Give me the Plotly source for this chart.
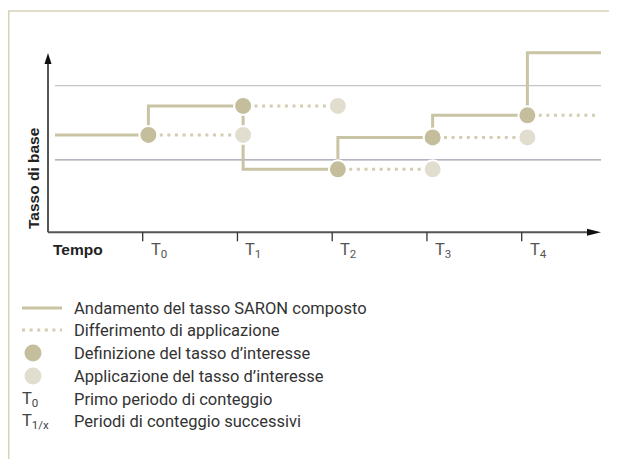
import plotly.graph_objects as go

# ---------------- data ----------------
period_labels = ["T<sub>0</sub>", "T<sub>1</sub>", "T<sub>2</sub>", "T<sub>3</sub>", "T<sub>4</sub>"]
period_pos = [0, 1, 2, 3, 4]
# compounded SARON level: before T0, T0-T1, T1-T2, T2-T3, T3-T4, after T4
rate_levels = [2.69, 3.49, 1.74, 2.62, 3.23, 4.96]
reference_levels = [2.0, 4.05]

y_title = "Tasso di base"
x_title = "Tempo"
legend_labels = [
    "Andamento del tasso SARON composto",
    "Differimento di applicazione",
    "Definizione del tasso d\u2019interesse",
    "Applicazione del tasso d\u2019interesse",
    "Primo periodo di conteggio",
    "Periodi di conteggio successivi",
]
legend_codes = ["T<sub>0</sub>", "T<sub>1/x</sub>"]

# ---------------- style / geometry ----------------
S = 8  # page margin of the browser body
W, H = 617 - S, 459 - S
X_PX0, X_SCALE = 142.7, 94.75      # screen px of T0, px per period
Y_PX0, Y_SCALE = 232.3, 36.2       # screen px of the time axis, px per unit
xd = lambda px: (px - X_PX0) / X_SCALE
yd = lambda py: (Y_PX0 - py) / Y_SCALE
px_ = lambda px: (px - S) / W
py_ = lambda py: 1 - (py - S) / H

C_LINE = "#c9c4a4"
C_DOT = "#d3ceb2"
C_DARK = "#c4be9c"
C_LIGHT = "#e1ded0"
C_FRAME = "#d7d2b4"
C_AXIS = "#555555"
OFF = 0.06
FONT = dict(family="Roboto, Liberation Sans, Arial", size=16.5, color="#333333")
BOLD = dict(family="Liberation Sans, Arial", size=15.5, color="#222222", weight="bold")

fig = go.Figure()

shapes = []
for lv, col in zip(reference_levels, ["#9d9daa", "#c3c3c8"]):
    shapes.append(dict(type="line", xref="x", yref="y", x0=xd(55), x1=xd(601), y0=lv, y1=lv,
                       line=dict(color=col, width=1.3), layer="below"))

# step line
step_x = [xd(55)] + [p + OFF for p in period_pos] + [xd(601)]
step_y = rate_levels + [rate_levels[-1]]
fig.add_trace(go.Scatter(x=step_x, y=step_y, mode="lines", line=dict(color=C_LINE, width=3, shape="hv"),
                         hoverinfo="skip", showlegend=False))

# dotted deferral lines
dx, dy = [], []
for i, p in enumerate(period_pos):
    last = i + 1 >= len(period_pos)
    x_end = xd(597) if last else period_pos[i + 1] + OFF - 0.1
    dx += [p + OFF + 0.12, x_end, None]
    dy += [rate_levels[i], rate_levels[i], None]
fig.add_trace(go.Scatter(x=dx, y=dy, mode="lines", line=dict(color=C_DOT, width=3, dash="3px,4.6px"),
                         hoverinfo="skip", showlegend=False))

# light (application) circles
fig.add_trace(go.Scatter(x=[p + OFF for p in period_pos[1:]], y=rate_levels[:4], mode="markers",
                         marker=dict(size=18, color=C_LIGHT, line=dict(color="white", width=2)),
                         hoverinfo="skip", showlegend=False))
# dark (definition) circles
fig.add_trace(go.Scatter(x=[p + OFF for p in period_pos], y=rate_levels[:5], mode="markers",
                         marker=dict(size=18, color=C_DARK, line=dict(color="white", width=2)),
                         hoverinfo="skip", showlegend=False))

# axes
shapes.append(dict(type="line", xref="x", yref="y", x0=xd(48), x1=xd(48), y0=0, y1=yd(62),
                   line=dict(color=C_AXIS, width=2)))
shapes.append(dict(type="line", xref="x", yref="y", x0=xd(48), x1=xd(590), y0=0, y1=0,
                   line=dict(color=C_AXIS, width=2)))
shapes.append(dict(type="path", xref="x", yref="y", xsizemode="pixel", ysizemode="pixel",
                   xanchor=xd(48), yanchor=yd(53), path="M0,0 L-3.5,-11 L3.5,-11 Z",
                   fillcolor="#111111", line=dict(width=0)))
shapes.append(dict(type="path", xref="x", yref="y", xsizemode="pixel", ysizemode="pixel",
                   xanchor=xd(601), yanchor=0, path="M0,0 L-14,3.5 L-14,-3.5 Z",
                   fillcolor="#111111", line=dict(width=0)))
for p in period_pos:
    shapes.append(dict(type="line", xref="x", yref="y", ysizemode="pixel", yanchor=0,
                       x0=p, x1=p, y0=0, y1=-9, line=dict(color="#333333", width=1.3)))

# frame
shapes.append(dict(type="path", xref="paper", yref="paper",
                   path=f"M{px_(8.7)},{py_(470)} L{px_(8.7)},{py_(11)} L{px_(630)},{py_(11)}",
                   line=dict(color=C_FRAME, width=1.5)))

annotations = []
annotations.append(dict(x=xd(33), y=yd(178), xref="x", yref="y", text=y_title, textangle=-90,
                        showarrow=False, font=BOLD))
annotations.append(dict(x=xd(51), y=yd(249), xref="x", yref="y", text=x_title, xanchor="left",
                        showarrow=False, font=BOLD))
for p, lab in zip(period_pos, period_labels):
    annotations.append(dict(x=p, y=yd(250), xref="x", yref="y", text=lab, xanchor="left", xshift=6,
                            showarrow=False, font=dict(FONT, color="#555555")))

rows = [308, 330, 353, 376, 399, 421]
for r, lab in zip(rows, legend_labels):
    annotations.append(dict(x=px_(72), y=py_(r), xref="paper", yref="paper", text=lab, xanchor="left",
                            yanchor="middle", showarrow=False, font=FONT))
for r, code in zip(rows[4:], legend_codes):
    annotations.append(dict(x=px_(20), y=py_(r), xref="paper", yref="paper", text=code, xanchor="left",
                            yanchor="middle", showarrow=False, font=dict(FONT, color="#444444")))
shapes.append(dict(type="line", xref="paper", yref="paper", x0=px_(22), x1=px_(62), y0=py_(rows[0]),
                   y1=py_(rows[0]), line=dict(color=C_LINE, width=3)))
shapes.append(dict(type="line", xref="paper", yref="paper", x0=px_(22), x1=px_(62), y0=py_(rows[1]),
                   y1=py_(rows[1]), line=dict(color=C_DOT, width=3, dash="3px,4.6px")))
fig.add_trace(go.Scatter(x=[xd(33), xd(33)], y=[yd(rows[2]), yd(rows[3])], mode="markers",
                         marker=dict(size=17, color=[C_DARK, C_LIGHT]), hoverinfo="skip", showlegend=False))

fig.update_layout(
    width=W, height=H, margin=dict(l=0, r=0, t=0, b=0),
    paper_bgcolor="white", plot_bgcolor="white",
    xaxis=dict(visible=False, range=[xd(S), xd(S + W)], fixedrange=True),
    yaxis=dict(visible=False, range=[yd(S + H), yd(S)], fixedrange=True),
    shapes=shapes, annotations=annotations, showlegend=False,
)
fig.write_html("out.html", config={"displayModeBar": False})
